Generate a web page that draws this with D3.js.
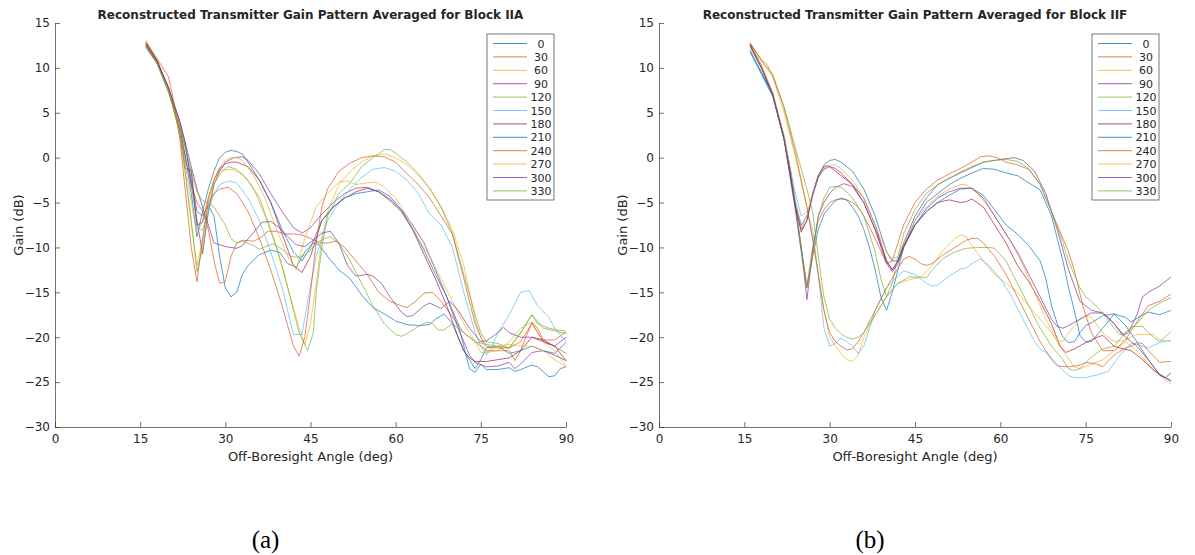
<!DOCTYPE html>
<html>
<head>
<meta charset="utf-8">
<title>Reconstructed Transmitter Gain Pattern</title>
<style>
body { margin: 0; background: #fff; }
text { font-family: "DejaVu Sans", sans-serif; fill: #262626; }
.caption { font-family: "Liberation Serif", serif; font-size: 25px; fill: #000; }
</style>
</head>
<body>
<script src="https://d3js.org/d3.v7.min.js"></script>
<script>
// legend entries (azimuth, deg) and matlab default colour order
var azimuths = [0, 30, 60, 90, 120, 150, 180, 210, 240, 270, 300, 330];
var lineColors = ["#0072BD", "#D95319", "#EDB120", "#7E2F8E", "#77AC30", "#4DBEEE", "#A2142F"];
var xTicks = [0, 15, 30, 45, 60, 75, 90];
var yTicks = [15, 10, 5, 0, -5, -10, -15, -20, -25, -30];

// Block IIA, one [angle, gain] list per azimuth, legend order
var iiaGain = [
  [[16,12.4],[18,10.5],[20,7.4],[22,3.5],[23,1],[24,-2.5],[25,-6],[26,-6.5],[27,-5.3],[28,-6.5],[29,-11],[30,-14.5],[31,-15.5],[32,-15],[33,-13],[34,-12],[36,-10.8],[38,-10.3],[39.5,-10.5],[41,-11.8],[42.5,-12.2],[44,-10.5],[45.5,-9.5],[46.5,-9.7],[48,-11],[50,-12.5],[52,-13.5],[54,-15.3],[56,-16.7],[58,-17.4],[60,-18.2],[62,-18.6],[64,-18.7],[66,-18.6],[67,-18],[68.5,-17.4],[70,-18.5],[72,-21.5],[74,-23.5],[75,-22.5],[76,-21.2],[78,-21],[80,-21.8],[82,-21.5],[84,-21],[86,-21.5],[88,-21.8],[90,-20.6]],
  [[16,12.8],[18,10.8],[20,7.6],[22,3.5],[23,0],[24,-3],[25,-5],[26,-6],[27,-8],[28,-11.5],[29,-14],[30,-13.8],[31,-11],[32,-9.5],[33,-9.2],[35,-9.3],[36,-9],[37.5,-8.2],[39,-8.2],[40.5,-8.5],[42,-8.5],[43.5,-8.6],[45,-9],[46.5,-9.5],[48,-9.5],[49.5,-9.3],[51,-10],[53,-11.5],[55,-13],[57,-15],[59,-16],[61,-16.5],[62,-16.7],[63.5,-16],[65,-15.1],[66.5,-15],[68,-16],[70,-17.7],[72,-19.5],[74,-20.5],[76,-21.5],[78,-21.5],[80,-21.5],[81,-22.6],[82,-21.5],[84,-18.3],[85,-19],[86,-20.3],[88,-20.3],[90,-19.4]],
  [[16,13.1],[18,10.8],[20,7.8],[22,2.8],[23,-2],[24,-7.5],[25,-12],[26,-9],[27,-5],[28,-2.5],[29,-1.4],[31,-1.3],[33,-1.8],[35,-3.5],[37,-6.5],[39,-10],[41,-14.5],[43,-19],[44,-20.8],[45,-18.5],[46,-14],[47,-9],[48,-6],[50,-3],[52,-1.5],[54,-0.5],[56,0.2],[58,0.4],[60,0],[62,-0.8],[64,-2],[66,-3.3],[68,-5.5],[70,-8],[72,-12],[73,-15],[74,-18],[75,-20],[76,-21.7],[78,-21.5],[80,-20.5],[82,-19],[84,-18.3],[86,-20.5],[88,-21.5],[90,-23.2]],
  [[16,12.6],[18,10.7],[20,7.8],[22,4],[23,1.5],[24,-3],[25,-7],[26,-10.7],[27,-6],[28,-3],[29,-1.5],[30,-0.5],[31.5,0],[33,0.1],[34,-0.3],[36,-1.8],[38,-4],[40,-6],[42,-7.8],[43.5,-8.4],[45,-7.8],[47,-6.3],[49,-5],[51,-4],[53,-3.4],[55,-3.3],[57,-3.8],[59,-4.6],[61,-5.8],[63,-7.5],[65,-9.5],[67,-12.5],[69,-15.5],[71,-19],[73,-22],[74,-22.8],[76,-23.3],[78,-23.2],[80,-22.8],[81,-23.5],[82,-23],[84,-21.7],[86,-21.5],[88,-22],[90,-22.6]],
  [[16,12.5],[18,10.5],[20,7.5],[22,2.5],[23,-2],[24,-7],[25,-12.7],[26,-10],[27,-6],[28,-3],[29,-1.8],[30.5,-1],[32,-1.3],[34,-2.5],[36,-4.5],[38,-8],[40,-12],[42,-17],[43,-19.5],[44.5,-21.5],[45.5,-19.5],[46,-15],[47,-10],[48,-6.5],[50,-4],[52,-2.8],[54,-1],[56,0],[58,0.9],[59,0.9],[60,0.5],[62,-0.5],[64,-1.8],[66,-3.5],[68,-5.5],[70,-8.5],[72,-13],[74,-17.5],[75,-19.5],[76,-20.5],[78,-20.7],[80,-21.2],[82,-19.5],[84,-17.5],[86,-19],[88,-19.3],[90,-19.6]],
  [[16,12.3],[18,10.5],[20,7.5],[22,3],[23,-0.5],[24,-1.5],[25,-8],[26,-8],[27,-6],[28,-4],[29,-3],[30.5,-2.6],[32,-2.8],[34,-4.5],[36,-7],[38,-10.5],[40,-14.5],[42,-19.7],[43.5,-19.7],[44.5,-16],[46,-11],[48,-7],[50,-5],[52,-3.5],[54,-2.2],[56,-1.3],[58,-1.1],[60,-1.5],[62,-2.5],[64,-4],[66,-6.3],[68,-7.5],[70,-10],[72,-15],[74,-19.5],[75,-21],[76,-22],[77,-21],[78,-19.5],[80,-17.5],[82,-15],[83.5,-14.8],[85,-16.5],[87,-17.8],[88,-19],[90,-20.5]],
  [[16,12.8],[18,10.8],[20,7.6],[22,3],[23,-1.2],[24,-1.4],[25,-7.5],[26,-7.2],[27,-4.5],[28,-2.5],[29,-1.2],[30,-0.7],[31,-0.5],[32,-0.5],[34,-1],[36,-2.5],[38,-5],[40,-8.5],[42,-12],[43.5,-12.8],[45,-11],[47,-7],[49,-5.5],[51,-4.5],[53,-3.8],[55,-3.4],[57,-3.8],[59,-4.8],[61,-6],[63,-8],[65,-10.8],[67,-13.5],[69,-16.5],[71,-20],[72,-21.5],[73,-22.3],[74,-22.7],[76,-22.7],[78,-22.5],[80,-22.3],[82,-21.5],[84,-20],[86,-20.3],[88,-21],[90,-22.6]],
  [[16,12.4],[18,10.5],[20,7.5],[22,3],[23,0],[24,-4],[25,-8.8],[26,-6],[27,-3.5],[28,-1.5],[29,0],[30,0.6],[31,0.8],[32,0.7],[33,0.4],[34,-0.5],[36,-2.5],[38,-5],[40,-8],[42,-10.5],[43.5,-11.5],[45,-10],[47,-7],[49,-5.5],[51,-4.5],[53,-4],[55,-3.8],[57,-3.6],[59,-4.3],[61,-5.8],[63,-8],[65,-10.3],[67,-13],[69,-15.5],[71,-18.5],[72,-21],[73,-23.5],[74,-23.9],[75,-23],[76,-23.6],[78,-23.6],[80,-23.4],[81,-23.8],[82,-23.6],[84,-23.1],[85,-23.3],[87,-24.4],[88,-24.3],[89,-23.5],[90,-23.3]],
  [[16,12.9],[18,11],[20,9],[21,6],[22,2],[23,-4],[24,-10],[25,-13.8],[26,-9],[27,-5],[28,-4],[29,-3.5],[30.5,-3.3],[32,-4],[34,-6],[36,-9],[38,-12.5],[40,-16.5],[42,-21],[43,-22.1],[44,-20],[45,-15],[46,-9.5],[47,-5.5],[48,-3.5],[50,-1.5],[52,-0.6],[54,0],[56,0.2],[58,0.1],[60,-0.5],[62,-1.8],[64,-3],[66,-4.5],[68,-6.5],[70,-8.5],[71,-11],[72,-13.5],[73,-16],[74,-18.5],[75,-20],[76,-21],[78,-21.2],[80,-21.2],[82,-20.5],[84,-18.5],[86,-20.5],[88,-21],[90,-21.8]],
  [[16,12.5],[18,10.5],[20,7.5],[22,3],[23,-1],[24,-5],[25,-8.5],[26,-7],[27,-4.5],[28,-2.5],[29,-1],[30,-0.3],[31,0],[32,0],[33,-0.3],[35,-2],[37,-4.5],[39,-8],[41,-11],[42.5,-12.5],[44,-9],[46,-5.5],[48,-4],[50,-2.7],[51.5,-2.6],[53,-3],[55,-2.8],[56.5,-2.7],[58,-3.3],[60,-4.5],[62,-6.5],[64,-9],[66,-11],[68,-13.5],[70,-16],[72,-18.5],[74,-20.5],[75,-21.7],[76,-21.7],[78,-21],[80,-20.8],[82,-21],[84,-21],[86,-21.5],[88,-22.5],[90,-23.3]],
  [[16,12.6],[18,10.7],[20,7.8],[22,4],[23,1.5],[24,-1],[25,-3.5],[26,-5.5],[27,-7.5],[28,-9.5],[30,-9.9],[32,-10.1],[33,-9.8],[35,-8.3],[36.5,-7.2],[38,-7.1],[39.5,-7.8],[41,-8.8],[42.5,-9.7],[44,-9.9],[45.5,-9.2],[47,-8.4],[48.5,-8.2],[50,-9.5],[51.5,-12],[53,-13.2],[55,-13],[56,-13.2],[57.5,-14],[59,-15.5],[61,-17.2],[62,-17.7],[63,-17.6],[65,-16.5],[66,-16.2],[67,-16.5],[68,-16.8],[69.5,-16],[71,-17],[73,-19],[75,-20.5],[76,-20.4],[78,-19.5],[79,-18.9],[80,-19.5],[82,-20],[84,-20],[86,-20.5],[88,-21],[90,-20]],
  [[16,12.3],[18,10.4],[20,7.2],[22,3.5],[23,1],[24,-1.5],[25,-3.8],[26,-4.8],[27,-5],[28,-5.5],[29,-6.5],[30,-7.5],[31,-9],[32,-9.5],[33,-9.3],[35,-9.8],[36,-10.2],[37.5,-9.8],[38.5,-9.6],[40,-10.2],[41.5,-11],[43,-11.1],[44,-10.8],[45,-10.3],[46,-9.5],[47.5,-9],[48.5,-8.8],[50,-9.5],[52,-11.5],[54,-14],[56,-16.5],[58,-18.5],[60,-19.7],[61,-19.9],[62,-19.6],[64,-18.8],[65.5,-18.3],[66.5,-18.5],[67.5,-19.2],[68.5,-19.2],[70,-18.5],[72,-19.5],[74,-20.5],[76,-20.8],[78,-21],[80,-21.2],[82,-19.5],[84,-17.5],[85,-18.5],[87,-19],[88.5,-19.2],[90,-19.3]]
];

// Block IIF, same layout
var iifGain = [
  [[16,11.8],[18,9.3],[20,6.8],[22,2],[23,-2],[24,-6],[25,-10.5],[26,-14.5],[27,-11],[28,-8],[29,-6.3],[30,-5.5],[31,-4.8],[32,-4.5],[33,-4.7],[34,-5.5],[35,-6.5],[36,-8],[37,-10],[38,-12.5],[39,-15.5],[40,-17],[41,-15],[42,-12.5],[43,-10],[45,-7],[47,-5],[49,-4],[51,-3],[53,-2.3],[55,-1.7],[57,-1.2],[59,-1.3],[61,-1.7],[63,-2],[65,-2.8],[67,-3.6],[69,-6.5],[71,-11.5],[72,-14.5],[73,-17],[74,-19.8],[75,-20.5],[76,-20.5],[78,-19],[80,-17.4],[82,-17.8],[83,-18.3],[85,-17.5],[86,-17.2],[88,-17.5],[90,-17]],
  [[16,12.6],[18,10.3],[20,7.2],[22,2.2],[23,-1.5],[24,-5.5],[25,-10],[26,-14.3],[27,-10],[28,-7],[29,-5.8],[30,-5],[31,-4.7],[32,-4.6],[33,-4.7],[34,-5],[35,-5.5],[36,-6.5],[38,-9],[40,-11.8],[41,-11.5],[42,-9.5],[43,-7.5],[45,-5],[47,-3.5],[49,-2.5],[51,-1.8],[53,-1.2],[55,-0.5],[56.5,0.1],[58,0.2],[59.5,0],[61,-0.5],[63,-0.8],[65,-1.3],[67,-3],[69,-6],[71,-9],[72,-10.5],[73,-12.5],[74.5,-16.5],[76,-19.5],[78,-21.5],[80,-21.5],[82,-20.3],[84,-18.3],[86,-16.5],[88,-16],[90,-15.2]],
  [[16,12.7],[18,10.8],[20,9],[22,5],[24,0],[26,-5.5],[27,-9],[28,-13],[29,-17],[30,-20],[31,-21],[32,-21.8],[33,-22.5],[34,-22.7],[35,-22],[36,-20],[38,-17.5],[40,-15.5],[42,-14],[44,-13.6],[46,-13.3],[48,-12],[50,-10.3],[52,-9],[53,-8.6],[54,-8.8],[55,-9.8],[57,-11.5],[59,-13],[61,-14],[63,-15],[65,-16.5],[67,-18],[69,-19.5],[71,-21.5],[73,-23.3],[74,-23.5],[76,-23],[78,-22.5],[80,-21.5],[82,-20.5],[84,-21.5],[86,-23],[88,-24.3],[90,-25.2]],
  [[16,12.4],[18,10],[20,7],[22,2],[24,-5.5],[25,-10],[26,-15.8],[27,-10.5],[28,-6.5],[29,-5],[30,-4],[31,-3.3],[32.5,-2.9],[34,-3.2],[36,-5],[38,-8],[40,-11.5],[41,-12.5],[42,-11.5],[43,-9.5],[45,-6.5],[47,-4.5],[49,-3],[51,-2.3],[53,-1.7],[55,-1.1],[57,-0.5],[59,-0.3],[61,-0.1],[62.5,0],[64,-0.3],[66,-1.5],[68,-4],[70,-8],[72,-12.5],[74,-16],[76,-17],[78,-17.3],[80,-18.5],[81.5,-19.8],[82.5,-19.5],[84,-17.5],[85,-15.5],[86,-15],[88,-14.3],[90,-13.3]],
  [[16,12.5],[18,10],[20,7],[22,2],[23,-1.5],[24,-5.5],[25,-10],[26,-14.5],[27,-11],[28,-6.5],[29,-4.5],[30,-3.3],[31,-3.2],[32,-3.3],[33,-3.8],[34,-4.5],[36,-6.5],[38,-10.5],[39,-13.5],[40,-15.5],[41,-14],[42,-11],[43,-8.5],[45,-5.8],[47,-4],[49,-3],[51,-2.3],[53,-1.6],[55,-1],[57,-0.5],[59,-0.3],[61,-0.2],[63,-0.4],[65,-1.2],[67,-3],[69,-6],[71,-9.5],[72,-11.5],[74,-14.5],[75,-15.5],[76,-16],[78,-17.3],[80,-19],[81,-19.7],[82,-19.5],[84,-18.5],[86,-17],[88,-16.2],[90,-15.6]],
  [[16,11.8],[18,9.5],[20,7],[22,2],[24,-4],[25,-6.5],[26,-6],[27,-8],[28,-13],[29,-19],[30,-21],[31,-20.7],[32,-20.1],[33,-20.5],[34,-21],[35,-21.8],[36,-21],[37,-19],[38,-17],[40,-14.5],[41.5,-13.5],[43,-12.6],[45,-13],[47,-14],[48,-14.3],[49,-14.2],[51,-13.2],[53,-12.4],[54,-12.3],[55,-11.8],[56.5,-11.3],[58,-12],[60,-13.5],[62,-15.5],[64,-18],[66,-20.5],[67,-21.3],[68,-21.7],[70,-23],[72,-24.3],[73,-24.5],[75,-24.5],[77,-24.2],[79,-23.8],[81,-22],[83,-20.7],[84,-20.8],[86,-21.2],[88,-20.6],[90,-20.3]],
  [[16,12.7],[18,10],[20,7],[22,2.2],[23,-1.5],[24,-5.5],[25,-8.3],[26,-7],[27,-4],[28,-2],[29,-1],[29.5,-0.9],[30,-1],[31,-1.5],[32,-2],[34,-3],[36,-4.5],[38,-7.5],[40,-11.5],[41,-12.5],[42,-11.5],[43,-9.8],[45,-7.5],[47,-6],[49,-5],[51,-4.7],[53,-5],[54,-4.9],[55,-4.6],[57,-5.5],[59,-7.5],[61,-9.5],[63,-12],[65,-13.8],[67,-16],[69,-18.5],[70.5,-21],[71.5,-21.7],[73,-21.3],[75,-20.6],[77,-20],[78,-19.8],[80,-21],[81,-21.2],[83,-21.5],[85,-22.5],[87,-23.7],[89,-24.5],[90,-24]],
  [[16,12],[18,9.5],[20,7],[22,2.3],[23,-1],[24,-5],[25,-7.5],[26,-6.5],[27,-4],[28,-2],[29,-0.8],[30,-0.3],[31,-0.2],[32,-0.5],[34,-1.5],[36,-3.5],[38,-6.5],[40,-10.5],[41,-11.5],[42,-11.5],[43,-10],[45,-7.5],[47,-6],[49,-5],[51,-4.2],[53,-3.5],[55,-3.4],[57,-4.2],[59,-5.8],[61,-7.5],[63,-8.5],[65,-9.8],[67,-11.5],[68,-13.5],[69,-16.5],[70,-18.5],[71,-20],[72,-20.6],[73,-20.5],[74,-19.5],[75,-18.7],[76,-18.4],[78,-17.6],[80,-17.4],[82,-18.7],[84,-20.5],[86,-22.5],[88,-24.2],[90,-24.8]],
  [[16,12.8],[18,10.8],[20,9.3],[22,5.5],[24,0.5],[26,-5.5],[27,-9],[28,-13],[29,-17],[30,-19.5],[31,-20.5],[32,-21],[33,-21.4],[34,-21.3],[35,-20.5],[36,-19.5],[38,-17],[40,-14.5],[42,-12.3],[43,-11.3],[44,-11],[45,-11.3],[46,-11.8],[47,-12],[48,-11.8],[50,-10.8],[52,-10],[54,-9.2],[55,-9],[56,-9],[57,-9.5],[59,-11],[61,-13],[63,-15.5],[65,-18],[67,-20.5],[69,-22.5],[70,-23.2],[72,-23.3],[74,-23.1],[75,-22.8],[77,-23],[78,-23.3],[80,-22],[82,-21.2],[83,-21],[84,-20.6],[85,-20.7],[86,-21.5],[88,-22.8],[90,-22.7]],
  [[16,12.5],[18,10],[20,7.3],[22,2.5],[23,-1],[24,-5],[25,-7.8],[26,-6.5],[27,-4],[28,-2.3],[29,-1.2],[30,-0.8],[31,-0.8],[32,-1.2],[34,-2.5],[36,-4.5],[38,-7.5],[40,-10.5],[41,-11.3],[42,-11],[43,-9.5],[45,-7],[47,-5.5],[49,-4.3],[51,-3.5],[53,-3],[54,-3],[56,-4],[58,-5.5],[60,-7.5],[62,-9.5],[64,-12],[66,-15],[68,-18],[70,-20.3],[71,-20.5],[72,-19.5],[74,-18],[75,-17.6],[76,-17.8],[78,-19.5],[80,-20.5],[82,-20.3],[84,-19.7],[86,-19.7],[87,-19.7],[88,-20.3],[90,-20.5]],
  [[16,12.5],[18,10],[20,7],[22,2],[23,-1.5],[24,-5.5],[25,-8],[26,-7],[27,-4.3],[28,-2.2],[29,-1.3],[30,-1],[31,-1.2],[32,-1.7],[34,-3],[36,-5],[38,-8],[40,-11.8],[41,-12.7],[42,-11.8],[43,-10],[45,-7.5],[47,-5.7],[49,-4.5],[51,-3.8],[53,-3.4],[55,-3.4],[57,-4.5],[59,-6.5],[61,-8.5],[63,-10.5],[65,-13],[67,-15.5],[69,-18],[70,-18.8],[71,-19],[72,-18.7],[74,-18],[76,-17.3],[78,-17.3],[79,-17.8],[80,-18.5],[82,-20],[84,-21],[86,-22.5],[88,-24.2],[90,-24.9]],
  [[16,12.8],[18,10.9],[19,10.4],[20,9],[22,5.7],[24,1],[26,-3.5],[27,-6],[28,-11],[29,-15.5],[30,-18],[31,-19],[32,-19.6],[33,-20],[34,-20.2],[35,-20],[36,-19.5],[38,-17.5],[40,-15.5],[42,-14],[44,-13.3],[46,-13.3],[47,-13.4],[48,-12.5],[50,-11.2],[52,-10.5],[54,-10.1],[56,-10],[58,-10],[59,-10.1],[61,-11.5],[63,-14],[65,-16.5],[67,-19],[69,-21],[71,-22.5],[72,-23.5],[73,-23.7],[74,-23.5],[76,-22.2],[78,-21.3],[80,-21],[82,-19.5],[83,-18.8],[85,-18.8],[86,-19.5],[88,-20.5],[90,-19.4]]
];

var width = 1195, height = 555;

var svg = d3.select("body").append("svg")
  .attr("width", width)
  .attr("height", height);

// one panel = axes + lines + legend + caption
function drawPanel(left, right, title, series, caption) {
  var x = d3.scaleLinear().domain([0, 90]).range([left, right]);
  var y = d3.scaleLinear().domain([-30, 15]).range([427, 23]);
  var g = svg.append("g");

  var line = d3.line()
    .x(function(d) { return x(d[0]); })
    .y(function(d) { return y(d[1]); });

  g.selectAll("path.gain")
    .data(series)
    .enter().append("path")
    .attr("class", "gain")
    .attr("d", line)
    .attr("fill", "none")
    .attr("stroke", function(d, i) { return lineColors[i % lineColors.length]; })
    .attr("stroke-width", 0.8)
    .attr("stroke-opacity", 0.85)
    .attr("stroke-linejoin", "round");

  // matlab style axes, ticks pointing in, no box
  var xAxis = g.append("g")
    .attr("transform", "translate(0,427)")
    .call(d3.axisBottom(x).tickValues(xTicks).tickSizeInner(-5).tickSizeOuter(0).tickPadding(7));
  var yAxis = g.append("g")
    .attr("transform", "translate(" + left + ",0)")
    .call(d3.axisLeft(y).tickValues(yTicks).tickSizeInner(-5).tickSizeOuter(0).tickPadding(5));
  [xAxis, yAxis].forEach(function(a) {
    a.selectAll("path, line").attr("stroke", "#333").attr("stroke-width", 0.7);
    a.selectAll("text").attr("font-family", "DejaVu Sans").attr("font-size", 12).attr("fill", "#262626");
  });

  var mid = (left + right) / 2;
  g.append("text")
    .attr("x", mid).attr("y", 19)
    .attr("text-anchor", "middle")
    .attr("font-size", 12).attr("font-weight", "bold")
    .attr("fill", "#000")
    .text(title);
  g.append("text")
    .attr("x", mid).attr("y", 461)
    .attr("text-anchor", "middle")
    .attr("font-size", 13)
    .text("Off-Boresight Angle (deg)");
  g.append("text")
    .attr("transform", "translate(" + (left - 32) + ",225) rotate(-90)")
    .attr("text-anchor", "middle")
    .attr("font-size", 13)
    .text("Gain (dB)");

  // legend
  var lx = right - 79, ly = 34;
  var leg = g.append("g").attr("transform", "translate(" + lx + "," + ly + ")");
  leg.append("rect")
    .attr("width", 67).attr("height", 166)
    .attr("fill", "#fff").attr("stroke", "#555").attr("stroke-width", 0.8);
  var rows = leg.selectAll("g.entry")
    .data(azimuths)
    .enter().append("g")
    .attr("transform", function(d, i) { return "translate(0," + (9.5 + i * 13.4) + ")"; });
  rows.append("line")
    .attr("x1", 6).attr("x2", 40)
    .attr("stroke", function(d, i) { return lineColors[i % lineColors.length]; })
    .attr("stroke-opacity", 0.85)
    .attr("stroke-width", 0.9);
  rows.append("text")
    .attr("x", 54).attr("y", 4)
    .attr("text-anchor", "middle")
    .attr("font-size", 11)
    .text(function(d) { return d; });

  svg.append("text")
    .attr("class", "caption")
    .attr("x", mid - 45).attr("y", 548)
    .attr("text-anchor", "middle")
    .text(caption);
}

drawPanel(55, 566, "Reconstructed Transmitter Gain Pattern Averaged for Block IIA", iiaGain, "(a)");
drawPanel(659, 1171, "Reconstructed Transmitter Gain Pattern Averaged for Block IIF", iifGain, "(b)");
</script>
</body>
</html>
